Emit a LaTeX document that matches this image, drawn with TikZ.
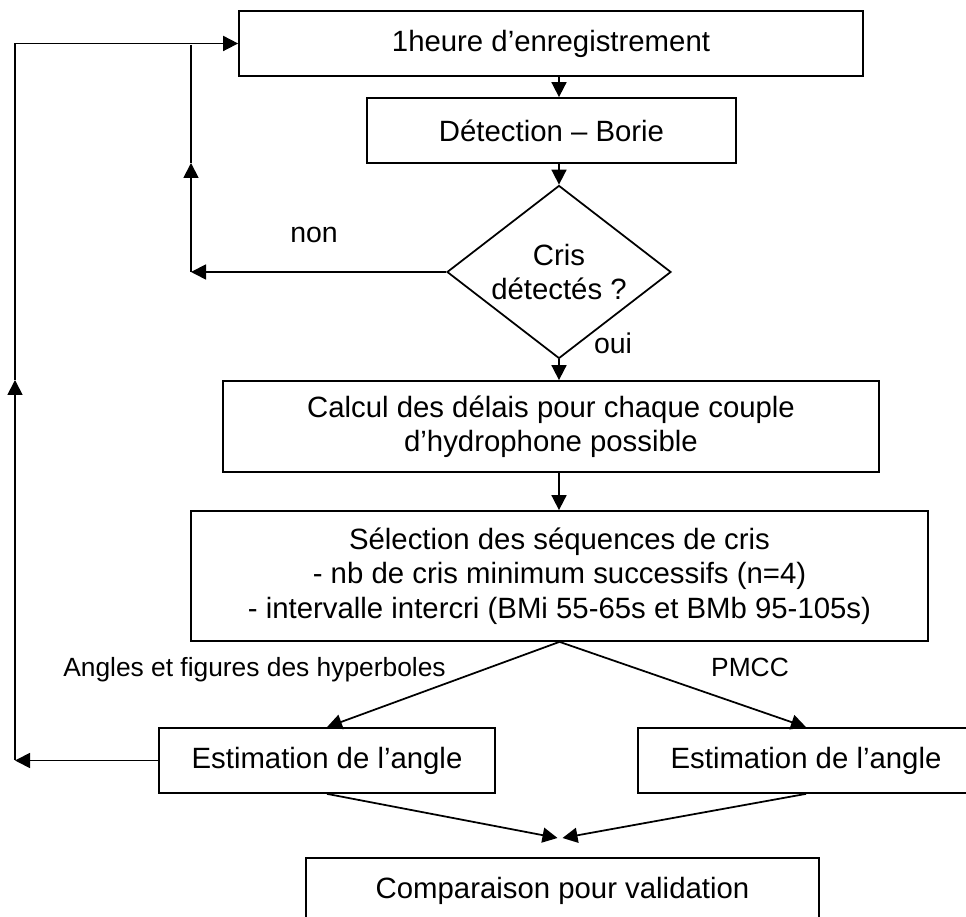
\documentclass[tikz,border=0pt]{standalone}
\usepackage{fontspec}
\setmainfont{Liberation Sans}
\usetikzlibrary{arrows.meta,shapes.geometric}

\begin{document}
\begin{tikzpicture}[
  box/.style={draw, line width=1pt, inner sep=0pt, align=center, minimum height=1.3cm, font=\fontsize{16.7}{19.5}\selectfont},
  choice/.style={draw, diamond, aspect=1.3, line width=1pt, inner sep=0pt, align=center, minimum width=4.48cm, minimum height=3.46cm, font=\fontsize{16.7}{19}\selectfont},
  txt/.style={font=\fontsize{16.2}{19}\selectfont},
  lbl/.style={font=\fontsize{15}{18}\selectfont},
  flow/.style={line width=1pt, -{Triangle[length=0.3cm,width=0.3cm]}},
  link/.style={line width=1pt}
]
\useasboundingbox (0,0) rectangle (19.32,18.34);

% Main chain
\node[box, minimum width=12.48cm] (rec) at (11.02,17.47) {1heure d’enregistrement};
\node[box, minimum width=7.38cm] (det) at (11.03,15.73) {Détection – Borie};
\node[choice] (cris) at (11.18,12.90) {Cris\\détectés ?};
\node[box, minimum width=13.12cm, minimum height=1.82cm] (calc) at (11.02,9.81) {Calcul des délais pour chaque couple\\d’hydrophone possible};
\node[box, minimum width=14.74cm, minimum height=2.60cm] (sel) at (11.19,6.82) {Sélection des séquences de cris\\- nb de cris minimum successifs (n=4)\\- intervalle intercri (BMi 55-65s et BMb 95-105s)};

% Two estimations
\node[box, minimum width=6.72cm] (estA) at (6.54,3.13) {Estimation de l’angle};
\node[box, minimum width=6.72cm] (estB) at (16.12,3.13) {Estimation de l’angle};
\node[box, minimum width=10.26cm] (comp) at (11.25,0.53) {Comparaison pour validation};

% Arrows down
\draw[flow] (rec.south -| cris) -- (det.north -| cris);
\draw[flow] (det.south -| cris) -- (cris.north);
\draw[flow] (cris.south) -- (calc.north -| cris);
\draw[flow] (calc.south -| cris) -- (sel.north -| cris);
\node[txt] (oui) at (12.26,11.48) {oui};

% Loop "non"
\coordinate (n1) at (3.82,12.90);
\coordinate (n2) at (3.82,15.08);
\coordinate (n3) at (3.82,17.43);
\draw[flow] (cris.west) -- (n1);
\draw[flow] (n1) -- (n2);
\draw[link] (n2) -- (n3);
\node[txt] (non) at (6.28,13.64) {non};

% Branches
\draw[flow] (sel.south) -- (estA.north);
\draw[flow] (sel.south) -- (estB.north);
\node[lbl] (hyp) at (5.09,4.94) {Angles et figures des hyperboles};
\node[lbl] (pmcc) at (15.0,5.0) {PMCC};

% Outer loop
\coordinate (r1) at (0.30,3.13);
\coordinate (r2) at (0.30,10.74);
\coordinate (r3) at (0.30,17.47);
\draw[flow] (estA.west) -- (r1);
\draw[flow] (r1) -- (r2);
\draw[link] (r2) -- (r3);
\draw[flow] (r3) -- (rec.west);

% Merge
\coordinate (m1) at (11.15,1.58);
\coordinate (m2) at (11.25,1.58);
\draw[flow] (estA.south) -- (m1);
\draw[flow] (estB.south) -- (m2);
\end{tikzpicture}
\end{document}
